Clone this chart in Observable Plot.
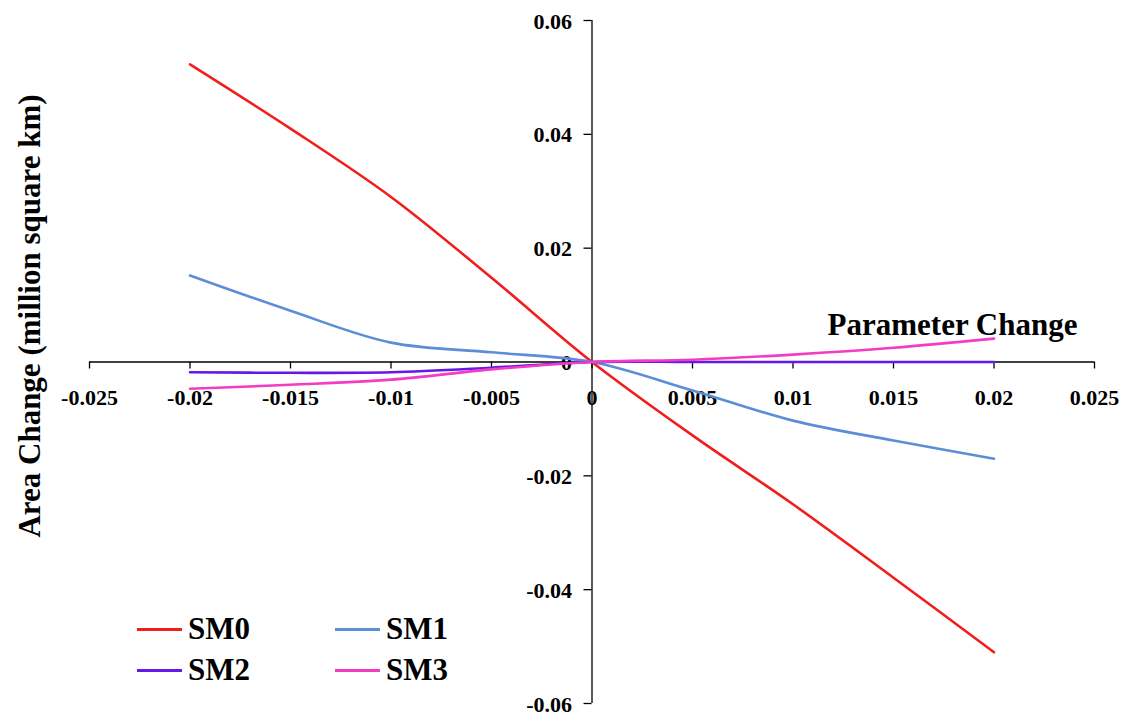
<!DOCTYPE html>
<html>
<head>
<meta charset="utf-8">
<script src="https://cdn.jsdelivr.net/npm/d3@7"></script>
<script src="https://cdn.jsdelivr.net/npm/@observablehq/plot@0.6"></script>
<style>
  html, body { margin: 0; padding: 0; background: #fff; }
  #wrap { position: relative; width: 1124px; height: 716px; font-family: "Liberation Serif", "Times New Roman", serif; }
  #legend { position: absolute; left: 137px; top: 611px; font-weight: bold; font-size: 31px; color: #000; }
  .item { position: absolute; display: flex; align-items: center; white-space: nowrap; }
  .sw { width: 45px; height: 3px; margin-right: 6px; }
</style>
</head>
<body>
<div id="wrap"></div>
<script>
const xVals = [-0.02, -0.015, -0.01, -0.005, 0, 0.005, 0.01, 0.015, 0.02];
const sm0 = [0.0523, 0.0410, 0.0290, 0.0148, 0, -0.0129, -0.0250, -0.0379, -0.0510];
const sm1 = [0.0152, 0.0090, 0.0034, 0.0017, 0, -0.0050, -0.0103, -0.0138, -0.0170];
const sm2 = [-0.0018, -0.0019, -0.0018, -0.0010, 0, 0, 0, 0, 0];
const sm3 = [-0.0047, -0.0040, -0.0031, -0.0013, 0, 0.0004, 0.0013, 0.0025, 0.0041];
const seriesNames = ["SM0", "SM1", "SM2", "SM3"];
const seriesColors = ["#f21d1d", "#5b8ed6", "#6619e6", "#f23cc4"];
const xTicks = [-0.025, -0.02, -0.015, -0.01, -0.005, 0, 0.005, 0.01, 0.015, 0.02, 0.025];
const yTicks = [-0.06, -0.04, -0.02, 0, 0.02, 0.04, 0.06];
const xTitle = "Parameter Change";
const yTitle = "Area Change (million square km)";

const allSeries = [sm0, sm1, sm2, sm3];
const rows = [];
allSeries.forEach((vals, s) => vals.forEach((v, i) => rows.push({series: seriesNames[s], x: xVals[i], y: v})));

const W = 1124, H = 716;
const mL = 89, mR = 30, mT = 20, mB = 13;
const yPerPx = 0.12 / (H - mT - mB);
const xPerPx = 0.05 / (W - mL - mR);
const font = "Liberation Serif, Times New Roman, serif";

const chart = Plot.plot({
  width: W, height: H,
  marginLeft: mL, marginRight: mR, marginTop: mT, marginBottom: mB,
  x: {domain: [-0.025, 0.025], axis: null},
  y: {domain: [-0.06, 0.06], axis: null},
  color: {domain: seriesNames, range: seriesColors},
  style: {fontFamily: font, background: "white"},
  marks: [
    Plot.ruleY([0], {stroke: "#000", strokeWidth: 1.3}),
    Plot.ruleX([0], {stroke: "#000", strokeWidth: 1.3}),
    Plot.ruleX(xTicks, {x: d => d, y1: 0, y2: -7 * yPerPx, stroke: "#000", strokeWidth: 1.3}),
    Plot.ruleY(yTicks, {y: d => d, x1: -8 * xPerPx, x2: 0, stroke: "#000", strokeWidth: 1.3}),
    Plot.text(xTicks, {x: d => d, y: 0, dy: 36, text: d => String(d), fontSize: 22, fontWeight: "bold", fill: "#000"}),
    Plot.text(yTicks, {x: 0, y: d => d, dx: -20, dy: 1, textAnchor: "end", text: d => String(d), fontSize: 22, fontWeight: "bold", fill: "#000"}),
    Plot.line(rows, {x: "x", y: "y", z: "series", stroke: "series", strokeWidth: 2.6, curve: "catmull-rom"}),
    Plot.text([xTitle], {frameAnchor: "right", dx: -17, dy: -37, textAnchor: "end", text: d => d, fontSize: 31, fontWeight: "bold", fill: "#000"}),
    Plot.text([yTitle], {frameAnchor: "left", dx: -59, dy: -46, rotate: -90, textAnchor: "middle", text: d => d, fontSize: 31, fontWeight: "bold", fill: "#000"})
  ]
});

const wrap = document.getElementById("wrap");
wrap.appendChild(chart);

const legend = document.createElement("div");
legend.id = "legend";
const pos = [[0, 0], [198, 0], [0, 41], [198, 41]];
seriesNames.forEach((name, i) => {
  const item = document.createElement("div");
  item.className = "item";
  item.style.left = pos[i][0] + "px";
  item.style.top = pos[i][1] + "px";
  const sw = document.createElement("span");
  sw.className = "sw";
  sw.style.background = seriesColors[i];
  const label = document.createElement("span");
  label.textContent = name;
  item.appendChild(sw);
  item.appendChild(label);
  legend.appendChild(item);
});
wrap.appendChild(legend);
</script>
</body>
</html>
